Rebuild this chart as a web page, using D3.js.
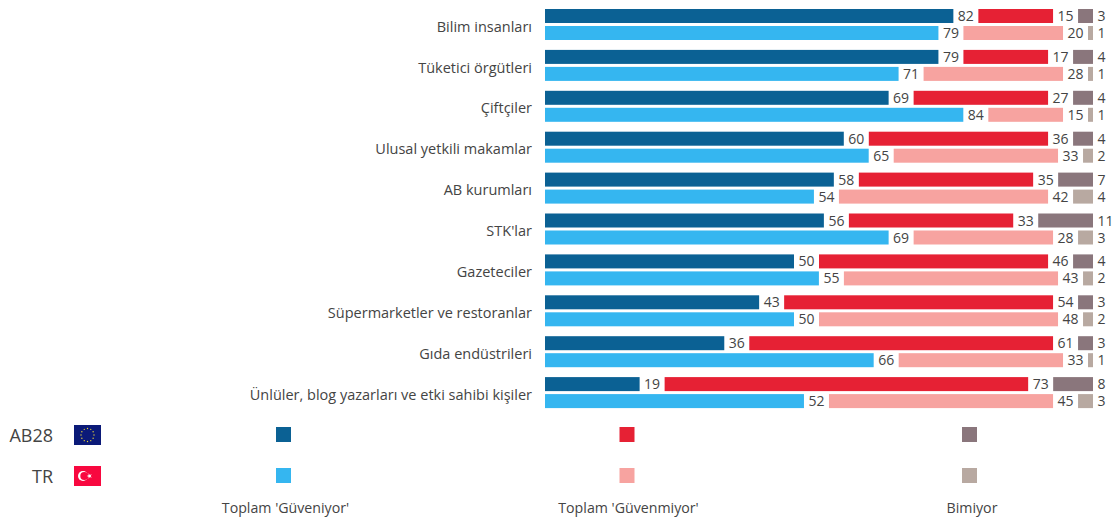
<!DOCTYPE html>
<html>
<head>
<meta charset="utf-8">
<script src="https://cdn.jsdelivr.net/npm/d3@7"></script>
<style>
  body { margin: 0; background: #fff; }
  text { font-family: "Open Sans", "Noto Sans", sans-serif; fill: #444; }
</style>
</head>
<body>
<div id="chart"></div>
<script>
  const width = 1116;
  const height = 517;

  const categories = ['Bilim insanları', 'Tüketici örgütleri', 'Çiftçiler', 'Ulusal yetkili makamlar',
    'AB kurumları', "STK'lar", 'Gazeteciler', 'Süpermarketler ve restoranlar', 'Gıda endüstrileri',
    'Ünlüler, blog yazarları ve etki sahibi kişiler'];
  const regions = ['AB28', 'TR'];
  const answers = ["Toplam 'Güveniyor'", "Toplam 'Güvenmiyor'", 'Bimiyor'];

  const trustEU = [82, 79, 69, 60, 58, 56, 50, 43, 36, 19];
  const distrustEU = [15, 17, 27, 36, 35, 33, 46, 54, 61, 73];
  const dontKnowEU = [3, 4, 4, 4, 7, 11, 4, 3, 3, 8];
  const trustTR = [79, 71, 84, 65, 54, 69, 55, 50, 66, 52];
  const distrustTR = [20, 28, 15, 33, 42, 28, 43, 48, 33, 45];
  const dontKnowTR = [1, 1, 1, 2, 4, 3, 2, 2, 1, 3];

  const colors = {
    AB28: ['#0b6194', '#e62134', '#8a767c'],
    TR: ['#35b6f0', '#f7a3a0', '#b8a9a1']
  };

  const svg = d3.select('#chart').append('svg')
    .attr('width', width)
    .attr('height', height)
    .style('display', 'block');

  const left = 545;
  const gap = 25;

  const x = d3.scaleLinear().domain([0, 100]).range([0, 498]);
  const y = d3.scaleBand().domain(categories).range([5.5, 414.5]);
  const yInner = d3.scaleBand().domain(regions).range([3.5, 34.5]).paddingInner(0.176);

  const rows = categories.flatMap((c, i) => [
    { category: c, region: 'AB28', values: [trustEU[i], distrustEU[i], dontKnowEU[i]] },
    { category: c, region: 'TR', values: [trustTR[i], distrustTR[i], dontKnowTR[i]] }
  ]);

  // one segment per answer, each pushed right by the ones before it plus the gap
  const segments = rows.flatMap(r => {
    let offset = left;
    return r.values.map((v, k) => {
      const s = { ...r, value: v, k: k, x0: offset };
      offset += x(v) + gap;
      return s;
    });
  });

  const rowY = d => y(d.category) + yInner(d.region);

  svg.append('g').selectAll('rect')
    .data(segments)
    .join('rect')
    .attr('x', d => d.x0)
    .attr('y', rowY)
    .attr('width', d => x(d.value))
    .attr('height', yInner.bandwidth())
    .attr('fill', d => colors[d.region][d.k]);

  svg.append('g').selectAll('text')
    .data(segments)
    .join('text')
    .attr('x', d => d.x0 + x(d.value) + 4.5)
    .attr('y', d => rowY(d) + yInner.bandwidth() / 2)
    .attr('dy', '0.36em')
    .style('font-size', '14px')
    .text(d => d.value);

  // category labels
  svg.append('g').selectAll('text')
    .data(categories)
    .join('text')
    .attr('x', 532)
    .attr('y', d => y(d) + y.bandwidth() / 2 + 0.5)
    .attr('dy', '0.36em')
    .attr('text-anchor', 'end')
    .style('font-size', '14.5px')
    .text(d => d);

  // legend
  const legendY = d3.scalePoint().domain(regions).range([435, 476]);
  const legendX = d3.scaleOrdinal().domain(answers).range([284, 627.5, 970]);

  regions.forEach(region => {
    svg.append('text')
      .attr('x', 53)
      .attr('y', legendY(region) + 1)
      .attr('dy', '0.36em')
      .attr('text-anchor', 'end')
      .style('font-size', '18px')
      .text(region);

    answers.forEach((a, k) => {
      svg.append('rect')
        .attr('x', legendX(a) - 8)
        .attr('y', legendY(region) - 8)
        .attr('width', 15)
        .attr('height', 15)
        .attr('fill', colors[region][k]);
    });
  });

  svg.append('g').selectAll('text')
    .data(answers)
    .join('text')
    .attr('x', (d, i) => [285.5, 628.5, 972][i])
    .attr('y', 507.5)
    .attr('dy', '0.36em')
    .attr('text-anchor', 'middle')
    .style('font-size', '14.2px')
    .text(d => d);

  // EU flag
  const eu = svg.append('g').attr('transform', `translate(74,${legendY('AB28') - 10})`);
  eu.append('rect').attr('width', 27).attr('height', 20).attr('fill', '#0b1a78');
  eu.selectAll('circle')
    .data(d3.range(12))
    .join('circle')
    .attr('cx', d => 13.5 + 6.5 * Math.sin(d * Math.PI / 6))
    .attr('cy', d => 10 - 6.5 * Math.cos(d * Math.PI / 6))
    .attr('r', 0.7)
    .attr('fill', '#e8d33a');

  // Turkish flag
  const tr = svg.append('g').attr('transform', `translate(74,${legendY('TR') - 10})`);
  tr.append('rect').attr('width', 27).attr('height', 20).attr('fill', '#f8083f');
  tr.append('circle').attr('cx', 9).attr('cy', 10).attr('r', 5).attr('fill', '#fff');
  tr.append('circle').attr('cx', 10.3).attr('cy', 10).attr('r', 4).attr('fill', '#f8083f');
  tr.append('path')
    .attr('transform', 'translate(15.5,10) rotate(-90)')
    .attr('d', d3.symbol(d3.symbolStar, 9)())
    .attr('fill', '#fff');
</script>
</body>
</html>
